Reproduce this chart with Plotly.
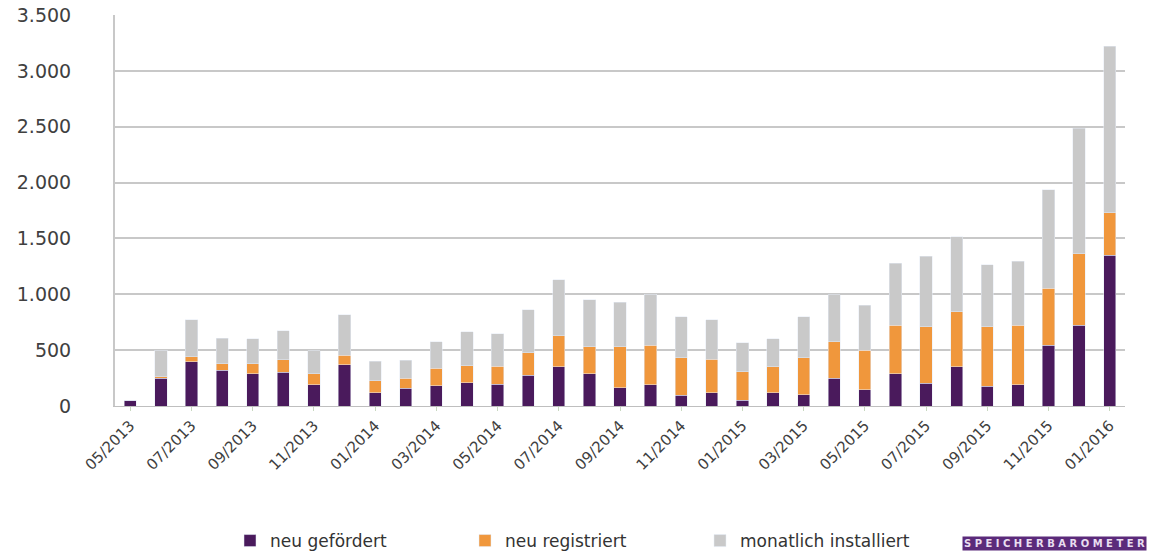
import plotly.graph_objects as go

months = ["05/2013", "06/2013", "07/2013", "08/2013", "09/2013", "10/2013", "11/2013", "12/2013",
          "01/2014", "02/2014", "03/2014", "04/2014", "05/2014", "06/2014", "07/2014", "08/2014",
          "09/2014", "10/2014", "11/2014", "12/2014", "01/2015", "02/2015", "03/2015", "04/2015",
          "05/2015", "06/2015", "07/2015", "08/2015", "09/2015", "10/2015", "11/2015", "12/2015",
          "01/2016"]
neu_gefoerdert = [50, 250, 395, 320, 290, 300, 190, 370, 120, 160, 180, 210, 195, 275, 350, 290,
                  165, 190, 95, 120, 50, 120, 100, 250, 145, 290, 205, 350, 175, 190, 545, 725, 1350]
neu_registriert = [0, 10, 45, 60, 90, 115, 100, 85, 105, 90, 160, 150, 160, 200, 280, 240,
                   365, 355, 335, 300, 255, 230, 330, 325, 355, 435, 505, 495, 535, 535, 510, 640, 380]
monatlich_installiert = [0, 240, 330, 225, 220, 260, 205, 360, 175, 160, 235, 305, 290, 385, 500, 420,
                         400, 455, 370, 350, 260, 250, 370, 420, 400, 555, 630, 670, 555, 570, 880, 1120, 1490]
tick_labels = months[::2]
y_ticks = [0, 500, 1000, 1500, 2000, 2500, 3000, 3500]

font_family = "'DejaVu Sans', Verdana, sans-serif"
text_color = "#404040"

fig = go.Figure()
fig.add_trace(go.Bar(x=months, y=neu_gefoerdert, name="neu gefördert", marker_color="#4A1A5C"))
fig.add_trace(go.Bar(x=months, y=neu_registriert, name="neu registriert", marker_color="#F0973C"))
fig.add_trace(go.Bar(x=months, y=monatlich_installiert, name="monatlich installiert", marker_color="#C9C9C9"))

fig.update_layout(
    barmode="stack",
    bargap=0.6,
    width=1155,
    height=554,
    margin=dict(l=115, r=30, t=15, b=148, autoexpand=False),
    paper_bgcolor="white",
    plot_bgcolor="white",
    separators=",.",
    font=dict(family=font_family, color=text_color),
    legend=dict(
        orientation="h",
        x=(230 - 115) / 1010, xanchor="left",
        y=(406 - 541) / 391, yanchor="middle",
        font=dict(size=17, color="#333333"),
        itemwidth=30,
        entrywidth=190,
        traceorder="normal",
    ),
    showlegend=True,
)
fig.update_xaxes(
    type="category",
    tickmode="array",
    tickvals=tick_labels,
    ticktext=tick_labels,
    tickangle=-45,
    tickfont=dict(size=15, color=text_color),
    showline=True,
    linecolor="#BFBFBF",
    linewidth=1,
    ticks="outside",
    ticklen=4,
    tickcolor="#C8D8C0",
    showgrid=False,
)
fig.update_yaxes(
    range=[0, 3500],
    tickvals=y_ticks,
    tickformat=",d",
    tickfont=dict(size=19, color=text_color),
    showgrid=True,
    gridcolor="#C8C8C8",
    gridwidth=2,
    showline=True,
    linecolor="#C8C8C8",
    linewidth=2,
    zeroline=False,
    ticklabelstandoff=38,
)
fig.add_annotation(
    text="<b>S P E I C H E R B A R O M E T E R</b>",
    xref="paper", yref="paper",
    x=(962 - 115) / 1010, y=(406 - 543) / 391,
    xanchor="left", yanchor="middle",
    showarrow=False,
    font=dict(size=10, color="#E8DDF0", family=font_family),
    bgcolor="#5B2A7A",
    borderpad=1,
)

fig.write_html("out.html")
